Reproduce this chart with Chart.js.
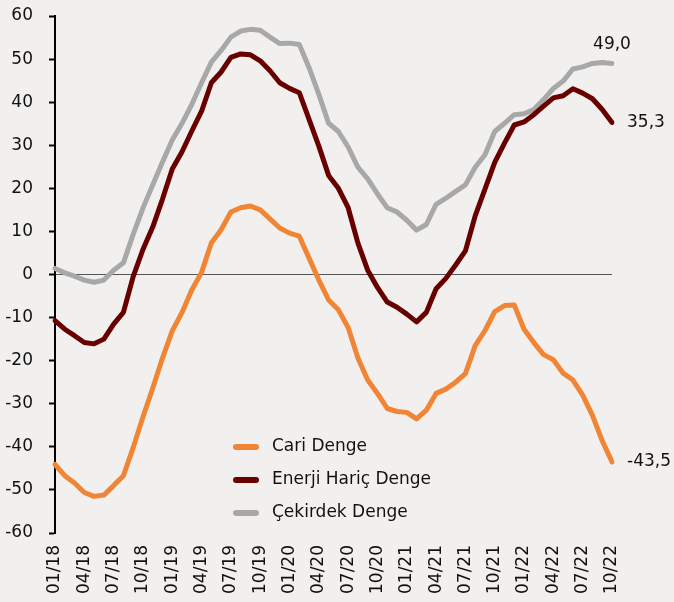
<!DOCTYPE html>
<html>
<head>
<meta charset="utf-8">
<script src="https://cdn.jsdelivr.net/npm/chart.js@4/dist/chart.umd.min.js"></script>
<style>
    html, body { margin: 0; padding: 0; background: #f2f0ee; }
    #wrap { width: 674px; height: 602px; position: relative; }
</style>
</head>
<body>
<div id="wrap"><canvas id="balanceChart"></canvas></div>
<script>
// months 01/18 .. 10/22
var months = ['01/18', '02/18', '03/18', '04/18', '05/18', '06/18', '07/18', '08/18', '09/18', '10/18', '11/18', '12/18',
    '01/19', '02/19', '03/19', '04/19', '05/19', '06/19', '07/19', '08/19', '09/19', '10/19', '11/19', '12/19',
    '01/20', '02/20', '03/20', '04/20', '05/20', '06/20', '07/20', '08/20', '09/20', '10/20', '11/20', '12/20',
    '01/21', '02/21', '03/21', '04/21', '05/21', '06/21', '07/21', '08/21', '09/21', '10/21', '11/21', '12/21',
    '01/22', '02/22', '03/22', '04/22', '05/22', '06/22', '07/22', '08/22', '09/22', '10/22'];

var cariDenge = [-44.1, -46.7, -48.4, -50.6, -51.5, -51.2, -49.0, -46.7, -40.2, -33.1,
    -26.4, -19.4, -13.1, -8.8, -3.6, 0.5, 7.3, 10.4, 14.5, 15.5,
    15.9, 15.0, 12.9, 10.8, 9.6, 8.9, 3.8, -1.3, -5.9, -8.2,
    -12.3, -19.4, -24.5, -27.6, -31.1, -31.8, -32.0, -33.5, -31.5, -27.6,
    -26.6, -25.0, -23.0, -16.5, -13.0, -8.6, -7.2, -7.1, -12.7, -15.8,
    -18.6, -19.8, -22.9, -24.5, -28.0, -32.7, -38.6, -43.5];

var enerjiHaric = [-10.7, -12.7, -14.2, -15.8, -16.1, -15.0, -11.5, -8.8, -0.5, 5.8,
    11.0, 17.5, 24.5, 28.5, 33.3, 37.9, 44.5, 47.0, 50.4, 51.2,
    51.0, 49.6, 47.3, 44.5, 43.2, 42.2, 36.0, 29.8, 23.0, 20.0,
    15.5, 7.3, 1.0, -3.0, -6.4, -7.6, -9.2, -11.0, -8.8, -3.3,
    -0.9, 2.2, 5.5, 13.6, 19.8, 26.0, 30.5, 34.7, 35.4, 37.1,
    39.1, 41.0, 41.5, 43.1, 42.1, 40.8, 38.3, 35.3];

var cekirdek = [1.4, 0.4, -0.4, -1.3, -1.8, -1.3, 1.0, 2.7, 9.3, 15.4,
    20.8, 26.1, 31.2, 35.1, 39.5, 44.5, 49.3, 52.0, 55.1, 56.5,
    56.9, 56.7, 55.1, 53.6, 53.7, 53.4, 48.0, 41.8, 35.1, 33.2,
    29.6, 24.9, 22.2, 18.7, 15.5, 14.5, 12.6, 10.3, 11.6, 16.3,
    17.7, 19.3, 20.8, 24.9, 27.8, 33.2, 35.1, 37.1, 37.3, 38.3,
    40.6, 43.2, 44.9, 47.7, 48.2, 49.0, 49.2, 49.0];

var seriesNames = ['Cari Denge', 'Enerji Hariç Denge', 'Çekirdek Denge'];
var seriesColors = ['#f08536', '#680000', '#a8a8a8'];

var fontFamily = '"DejaVu Sans", Verdana, sans-serif';
var textColor = '#111111';

// legend inside the plot + value labels at the line ends
var extrasPlugin = {
    id: 'extras',
    afterDatasetsDraw: function (chart) {
        var ctx = chart.ctx;
        var area = chart.chartArea;
        ctx.save();
        ctx.font = '17px ' + fontFamily;
        ctx.fillStyle = textColor;
        ctx.textBaseline = 'middle';

        // legend
        var lx = area.left + 181;
        var ly = area.top + 431;
        chart.data.datasets.forEach(function (ds, i) {
            var y = ly + i * 33;
            ctx.strokeStyle = ds.borderColor;
            ctx.lineWidth = 6;
            ctx.lineCap = 'round';
            ctx.beginPath();
            ctx.moveTo(lx, y);
            ctx.lineTo(lx + 20, y);
            ctx.stroke();
            ctx.fillText(ds.label, lx + 36, y);
        });

        // end labels
        chart.data.datasets.forEach(function (ds, i) {
            var meta = chart.getDatasetMeta(i);
            var last = meta.data[meta.data.length - 1];
            var txt = ds.data[ds.data.length - 1].toFixed(1).replace('.', ',');
            if (i === 2) {
                ctx.textAlign = 'center';
                ctx.fillText(txt, last.x, last.y - 19);
            } else {
                ctx.textAlign = 'left';
                ctx.fillText(txt, last.x + 15, last.y);
            }
        });
        ctx.restore();
    }
};

function makeDataset(i, values) {
    return {
        label: seriesNames[i],
        data: values,
        borderColor: seriesColors[i],
        backgroundColor: seriesColors[i],
        borderWidth: 5,
        pointRadius: 0,
        tension: 0,
        borderCapStyle: 'round',
        borderJoinStyle: 'round',
        fill: false
    };
}

var ctx = document.getElementById('balanceChart').getContext('2d');
var balanceChart = new Chart(ctx, {
    type: 'line',
    data: {
        labels: months,
        datasets: [
            makeDataset(0, cariDenge),
            makeDataset(1, enerjiHaric),
            makeDataset(2, cekirdek)
        ]
    },
    options: {
        responsive: true,
        maintainAspectRatio: false,
        animation: false,
        layout: {
            padding: { top: 0, right: 62, left: 0, bottom: 0 }
        },
        plugins: {
            legend: { display: false },
            tooltip: { enabled: false }
        },
        scales: {
            x: {
                offset: false,
                grid: { display: false },
                border: { display: false },
                ticks: {
                    autoSkip: false,
                    maxRotation: 90,
                    minRotation: 90,
                    padding: 4,
                    color: textColor,
                    font: { family: fontFamily, size: 17 },
                    callback: function (value, index) {
                        return index % 3 === 0 ? months[index] : '';
                    }
                },
                afterFit: function (scale) {
                    scale.height = 69;
                }
            },
            y: {
                min: -60,
                max: 60,
                ticks: {
                    stepSize: 10,
                    padding: 16,
                    color: textColor,
                    font: { family: fontFamily, size: 17 }
                },
                grid: {
                    color: function (c) {
                        return c.tick && c.tick.value === 0 ? '#555555' : 'rgba(0,0,0,0)';
                    },
                    lineWidth: 1,
                    tickColor: '#000000',
                    tickLength: 6,
                    tickWidth: 2
                },
                border: { display: true, color: '#000000', width: 2 },
                afterFit: function (scale) {
                    scale.width = 55;
                    scale.paddingTop = 16;
                    scale.paddingBottom = 10;
                }
            }
        }
    },
    plugins: [extrasPlugin]
});
</script>
</body>
</html>
